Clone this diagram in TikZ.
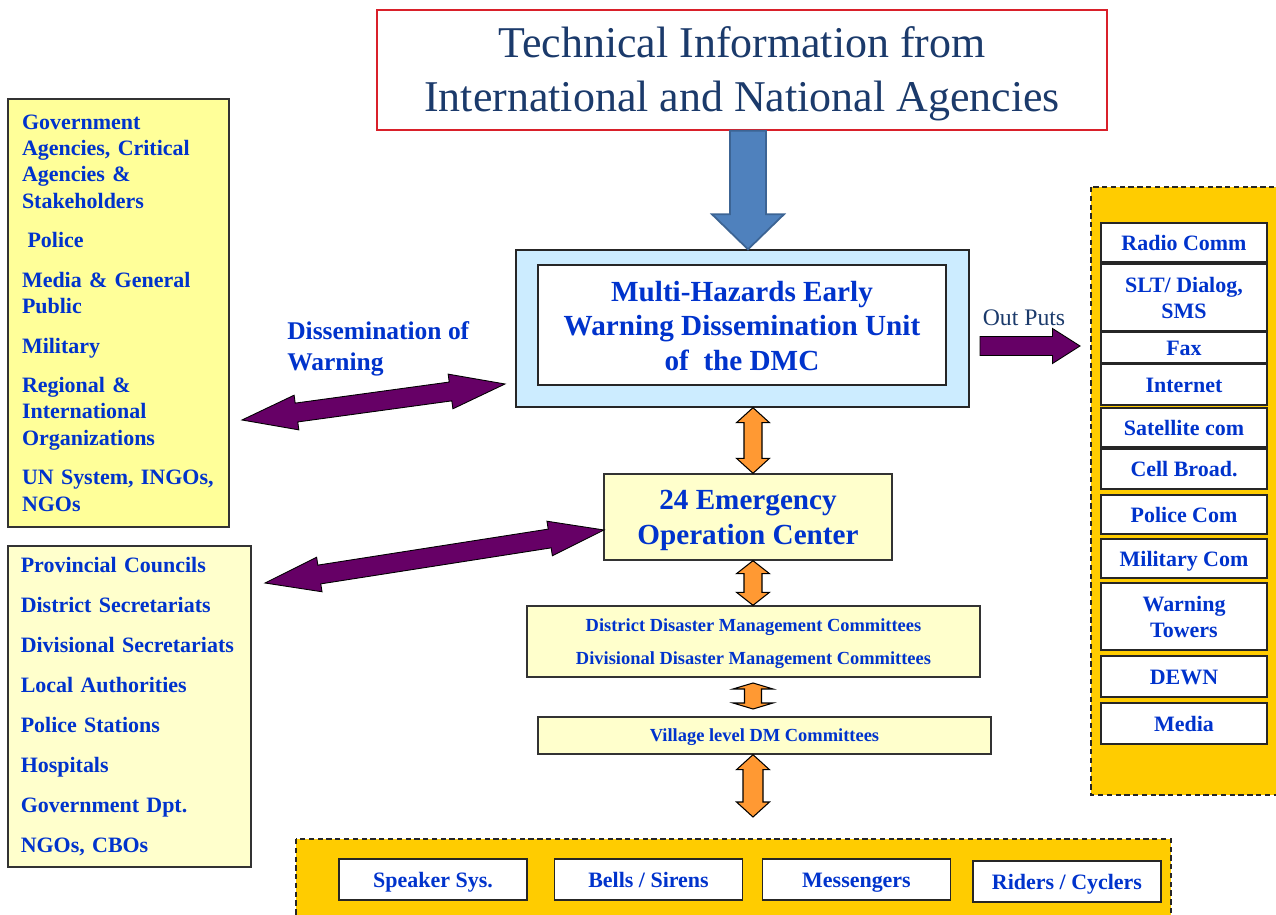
\documentclass[tikz,border=0pt]{standalone}
\usepackage{fontspec}
\setmainfont{Liberation Serif}
\usetikzlibrary{calc}

\definecolor{txtblue}{HTML}{0033CC}
\definecolor{navy}{HTML}{1B3A6B}
\definecolor{titlered}{HTML}{D9202A}
\definecolor{lightblue}{HTML}{CCECFF}
\definecolor{lightyellow}{HTML}{FFFF99}
\definecolor{paleyellow}{HTML}{FFFFCC}
\definecolor{panelgold}{HTML}{FFCC00}
\definecolor{plum}{HTML}{660066}
\definecolor{orangefill}{HTML}{FF9933}
\definecolor{steel}{HTML}{4F81BD}
\definecolor{steeldark}{HTML}{3C6494}

% Fat arrows: style, from, to, shaft half width, head half width, head length
\newcommand{\fatdouble}[6]{%
  \draw[#1] (#2)
    -- ($(#2)!#6!(#3)!#5!90:(#3)$) -- ($(#2)!#6!(#3)!#4!90:(#3)$)
    -- ($(#3)!#6!(#2)!#4!-90:(#2)$) -- ($(#3)!#6!(#2)!#5!-90:(#2)$)
    -- (#3)
    -- ($(#3)!#6!(#2)!#5!90:(#2)$) -- ($(#3)!#6!(#2)!#4!90:(#2)$)
    -- ($(#2)!#6!(#3)!#4!-90:(#3)$) -- ($(#2)!#6!(#3)!#5!-90:(#3)$)
    -- cycle;}
\newcommand{\fatsingle}[6]{%
  \draw[#1] ($(#2)!#4!90:(#3)$)
    -- ($(#3)!#6!(#2)!#4!-90:(#2)$) -- ($(#3)!#6!(#2)!#5!-90:(#2)$)
    -- (#3)
    -- ($(#3)!#6!(#2)!#5!90:(#2)$) -- ($(#3)!#6!(#2)!#4!90:(#2)$)
    -- ($(#2)!#4!-90:(#3)$) -- cycle;}

\begin{document}
\begin{tikzpicture}[x=0.02cm, y=-0.02cm,
    panel/.style={draw=black!85, dash pattern=on 3pt off 2pt, fill=panelgold, line width=0.7pt},
    outbox/.style={draw=black!85, fill=white, line width=0.9pt, minimum width=3.32cm,
        inner sep=1pt, align=center, text=txtblue, font=\bfseries\fontsize{12.5}{14.8}\selectfont},
    oneline/.style={text height=8.6pt, text depth=0pt},
    twoline/.style={},
    alertbox/.style={outbox, oneline, minimum width=3.76cm, minimum height=0.82cm},
    listbox/.style={draw=black!80, line width=0.8pt, align=left, text=txtblue, inner ysep=2pt,
        font=\bfseries\fontsize{12.5}{15}\selectfont},
    levelbox/.style={draw=black!80, fill=paleyellow, line width=0.8pt, align=center, text=txtblue},
    purplearrow/.style={fill=plum, draw=black, line width=0.5pt},
    orangearrow/.style={fill=orangefill, draw=black, line width=0.6pt},
    bluearrow/.style={fill=steel, draw=steeldark, line width=1pt}
]

\clip (0,0) rectangle (1276,915);
\fill[white] (0,0) rectangle (1276,915);

% Source of information
\node[draw=titlered, line width=0.8pt, minimum width=14.6cm, minimum height=2.4cm, align=center,
    text=navy, font=\fontsize{25}{30.6}\selectfont] (title) at (742,70)
    {\rule{0pt}{21.6pt}Technical Information from\\International and National Agencies};

% Central chain
\node[draw=black!85, fill=lightblue, line width=0.8pt, minimum width=9.06cm, minimum height=3.14cm] (dmc) at (742.5,328.5) {};
\node[draw=black!85, fill=white, line width=0.8pt, minimum width=8.16cm, minimum height=2.4cm, align=center,
    text=txtblue, font=\bfseries\fontsize{16.6}{19.6}\selectfont] (dmcin) at (742,325)
    {\rule{0pt}{12.5pt}Multi-Hazards Early\\Warning Dissemination Unit\\of\ \ the DMC};

\node[levelbox, minimum width=5.76cm, minimum height=1.72cm, font=\bfseries\fontsize{16.6}{20.4}\selectfont] (eoc) at (748,517)
    {\rule{0pt}{15pt}24 Emergency\\Operation Center};
\node[levelbox, minimum width=9.06cm, minimum height=1.42cm, font=\bfseries\fontsize{10.5}{18.7}\selectfont] (ddmc) at (753.5,641.5)
    {\rule{0pt}{9.4pt}District Disaster Management Committees\\Divisional Disaster Management Committees};
\node[levelbox, text height=7.2pt, text depth=0pt, minimum width=9.06cm, minimum height=0.74cm,
    font=\bfseries\fontsize{10.5}{12.5}\selectfont] (village) at (764.5,735.5)
    {Village level DM Committees};

% Receivers on the left
\node[listbox, fill=lightyellow, text width=3.86cm, inner xsep=0.28cm, minimum height=8.56cm] (agencies) at (118.5,313)
    {Government\\Agencies, Critical\\Agencies \&\\Stakeholders\\[7.5pt]
     \hspace{0.25em}Police\\[7.5pt]
     Media \& General\\Public\\[7.5pt]
     Military\\[7.5pt]
     Regional \&\\International\\Organizations\\[7.5pt]
     UN System, INGOs,\\NGOs};
\node[listbox, fill=paleyellow, text width=4.35cm, inner xsep=0.255cm, minimum height=6.42cm,
    font=\bfseries\fontsize{12.5}{22.7}\selectfont] (local) at (129.5,706.5)
    {Provincial Councils\\District Secretariats\\Divisional Secretariats\\Local Authorities\\
     Police Stations\\Hospitals\\Government Dpt.\\NGOs, CBOs};

\node[anchor=west, inner sep=0pt, align=left, text=txtblue, font=\bfseries\fontsize{14.5}{17.6}\selectfont] (dissem) at (287,348.5)
    {Dissemination of\\Warning};

% Output channels
\draw[panel] (1091,187) rectangle (1295,795);
\node[text=navy, font=\fontsize{13.5}{16}\selectfont] (outputs) at (1024,318) {Out Puts};
\foreach \yc/\bh/\st/\txt [count=\i] in {242.5/0.78/oneline/Radio Comm, 297.5/1.34/twoline/{SLT/ Dialog,\\SMS},
    347.5/0.62/oneline/Fax, 384.5/0.82/oneline/Internet, 427.5/0.78/oneline/Satellite com,
    469/0.8/oneline/Cell Broad., 514.5/0.78/oneline/Police Com, 558.5/0.78/oneline/Military Com,
    616.5/1.34/twoline/{Warning\\Towers}, 676.5/0.82/oneline/DEWN, 723.5/0.82/oneline/Media}
    \node[outbox, \st, minimum height=\bh cm] (out\i) at (1184,\yc) {\txt};

% Alert means at village level
\draw[panel] (296,839) rectangle (1171,935);
\foreach \xc/\yc/\txt [count=\i] in {433/879.5/Speaker Sys., 648.5/879.5/{Bells / Sirens},
    856.5/879.5/Messengers, 1067/881.5/{Riders / Cyclers}}
    \node[alertbox] (alert\i) at (\xc,\yc) {\txt};

% Arrow ends
\coordinate (ax) at (753,0);
\coordinate (bx) at (748,0);
\coordinate (w1l) at (242,420);
\coordinate (w1r) at (505,384);
\coordinate (w2l) at (265,583);
\coordinate (w2r) at (604,530);
\coordinate (outA) at (980,346);
\coordinate (outB) at (1080,346);
\coordinate (o3a) at (753,683);
\coordinate (o3b) at (753,709);
\coordinate (o4b) at (753,817);

% Fat arrows
\fatsingle{bluearrow}{title.south -| bx}{dmc.north -| bx}{0.36cm}{0.72cm}{0.7cm}
\fatsingle{purplearrow}{outA}{outB}{0.19cm}{0.35cm}{0.55cm}
\fatdouble{purplearrow}{w1l}{w1r}{0.19cm}{0.35cm}{1.1cm}
\fatdouble{purplearrow}{w2l}{w2r}{0.19cm}{0.35cm}{1.1cm}
\fatdouble{orangearrow}{dmc.south -| ax}{eoc.north -| ax}{0.18cm}{0.33cm}{0.3cm}
\fatdouble{orangearrow}{eoc.south -| ax}{ddmc.north -| ax}{0.18cm}{0.33cm}{0.26cm}
\fatdouble{orangearrow}{o3a}{o3b}{0.17cm}{0.4cm}{0.12cm}
\fatdouble{orangearrow}{village.south -| ax}{o4b}{0.2cm}{0.33cm}{0.3cm}

\end{tikzpicture}
\end{document}
